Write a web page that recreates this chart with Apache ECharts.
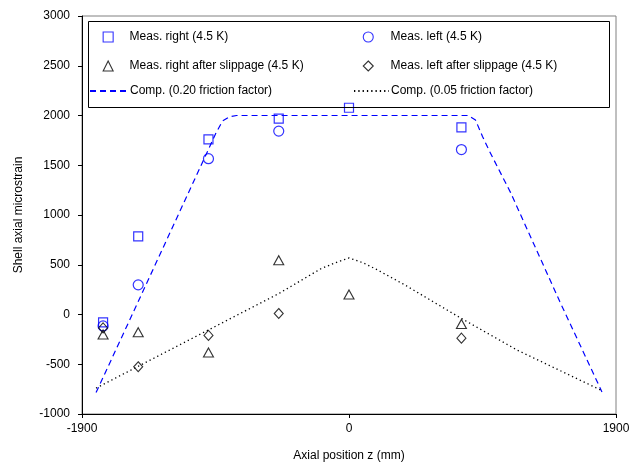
<!DOCTYPE html>
<html><head><meta charset="utf-8">
<script src="https://cdn.jsdelivr.net/npm/echarts@6/dist/echarts.min.js"></script>
<style>html,body{margin:0;padding:0;background:#fff}#c{width:634px;height:468px}</style>
</head><body><div id="c"></div>
<script>
// Measured positions (mm)
const measZ = [-1750, -1500, -1000, -500, 0, 800];
const measRight = [-80, 785, 1760, 1968, 2078, 1880];
const measLeft = [-115, 298, 1566, 1843, null, 1658];
const rightSlip = [-200, -178, -382, 545, 202, -95];
const leftSlip = [-135, -525, -210, 10, null, -238];
// Computed curves
const compZ20 = [-1800, -1500, -1000, -950, -900, -850, -800, 0, 850, 900, 950, 1000, 1150, 1500, 1800];
const comp20 = [-785, 130, 1660, 1815, 1945, 1988, 2000, 2000, 2000, 1955, 1790, 1640, 1225, 130, -778];
const compZ05 = [-1800, -1000, -500, -200, -100, 0, 100, 200, 400, 800, 1200, 1800];
const comp05 = [-740, -155, 210, 460, 518, 568, 520, 450, 295, -40, -360, -765];
const xTicks = [-1900, 0, 1900];
const yMin = -1000, yMax = 3000, yStep = 500;
const names = ['Meas. right (4.5 K)', 'Meas. left (4.5 K)', 'Meas. right after slippage (4.5 K)',
  'Meas. left after slippage (4.5 K)', 'Comp. (0.20 friction factor)', 'Comp. (0.05 friction factor)'];

const pair = (xs, ys) => xs.map((x, i) => ys[i] == null ? null : [x, ys[i]]).filter(d => d);
const FONT = 'Liberation Sans, Arial, sans-serif';
const BLUE = '#0000ff';

const chart = echarts.init(document.getElementById('c'));
function legSym(name, icon, center, top, textX, size) {
  return { data: [{ name: name, icon: icon }], left: center - size / 2, top: top + (10 - size) / 2, padding: 0,
    itemWidth: size, itemHeight: size, selectedMode: false,
    itemStyle: { borderWidth: 1.1 },
    textStyle: { fontFamily: FONT, fontSize: 12, color: '#000', padding: [0, 0, 0, textX - (center + size / 2 + 5)] } };
}
function legLine(name, left, width, top, textX) {
  return { data: [{ name: name, icon: 'inherit' }], left: left, top: top, padding: 0,
    itemWidth: width, itemHeight: 10, selectedMode: false,
    itemStyle: { opacity: 0 },
    textStyle: { fontFamily: FONT, fontSize: 12, color: '#000', padding: [0, 0, 0, textX - (left + width + 5)] } };
}
chart.setOption({
  animation: false,
  backgroundColor: '#fff',
  grid: { left: 82, right: 18, top: 16, bottom: 54, show: true, borderColor: '#808080', borderWidth: 1 },
  legend: [
    legSym(names[0], 'rect', 107.6, 31, 129, 10), legSym(names[1], 'circle', 367.7, 31, 390, 10),
    legSym(names[2], 'triangle', 107.6, 60, 129, 10), legSym(names[3], 'diamond', 367.7, 60, 390, 10),
    legLine(names[4], 89, 37, 85, 129), legLine(names[5], 353, 35, 85, 390)
  ],
  graphic: [{ type: 'rect', shape: { x: 88.5, y: 21.5, width: 521, height: 86 },
    style: { fill: 'none', stroke: '#000', lineWidth: 1 }, z: 10 }],
  xAxis: {
    type: 'value', min: xTicks[0], max: xTicks[2], interval: 1900,
    name: 'Axial position z (mm)', nameLocation: 'middle', nameGap: 36,
    nameTextStyle: { fontFamily: FONT, fontSize: 12, color: '#000' },
    axisLine: { show: true, onZero: false, lineStyle: { color: '#000', width: 1 } },
    axisTick: { show: true, length: 4, lineStyle: { color: '#000' } },
    axisLabel: { fontFamily: FONT, fontSize: 12, color: '#000', margin: 9, formatter: v => String(v) },
    splitLine: { show: false }
  },
  yAxis: {
    type: 'value', min: yMin, max: yMax, interval: yStep,
    name: 'Shell axial microstrain', nameLocation: 'middle', nameGap: 57,
    nameTextStyle: { fontFamily: FONT, fontSize: 12, color: '#000' },
    axisLine: { show: true, onZero: false, lineStyle: { color: '#000', width: 1 } },
    axisTick: { show: true, length: 4, lineStyle: { color: '#000' } },
    axisLabel: { fontFamily: FONT, fontSize: 12, color: '#000', margin: 12, formatter: v => String(v) },
    splitLine: { show: false }
  },
  series: [
    { name: names[4], type: 'line', data: pair(compZ20, comp20), symbol: 'none', z: 2,
      lineStyle: { color: BLUE, width: 1.2, type: [6, 4] }, itemStyle: { color: BLUE } },
    { name: names[5], type: 'line', data: pair(compZ05, comp05), symbol: 'none', z: 2,
      lineStyle: { color: '#000', width: 1.3, type: [1.3, 3] }, itemStyle: { color: '#000' } },
    { name: names[0], type: 'scatter', data: pair(measZ, measRight), symbol: 'rect', symbolSize: 9, z: 3,
      itemStyle: { color: 'rgba(255,255,255,0)', borderColor: BLUE, borderWidth: 1.2 } },
    { name: names[1], type: 'scatter', data: pair(measZ, measLeft), symbol: 'circle', symbolSize: 10, z: 3,
      itemStyle: { color: 'rgba(255,255,255,0)', borderColor: BLUE, borderWidth: 1.2 } },
    { name: names[2], type: 'scatter', data: pair(measZ, rightSlip), symbol: 'triangle', symbolSize: [10, 9], z: 3,
      itemStyle: { color: 'rgba(255,255,255,0)', borderColor: '#000', borderWidth: 1.1 } },
    { name: names[3], type: 'scatter', data: pair(measZ, leftSlip), symbol: 'diamond', symbolSize: [9, 10], z: 3,
      itemStyle: { color: 'rgba(255,255,255,0)', borderColor: '#000', borderWidth: 1.1 } }
  ]
});
</script></body></html>
